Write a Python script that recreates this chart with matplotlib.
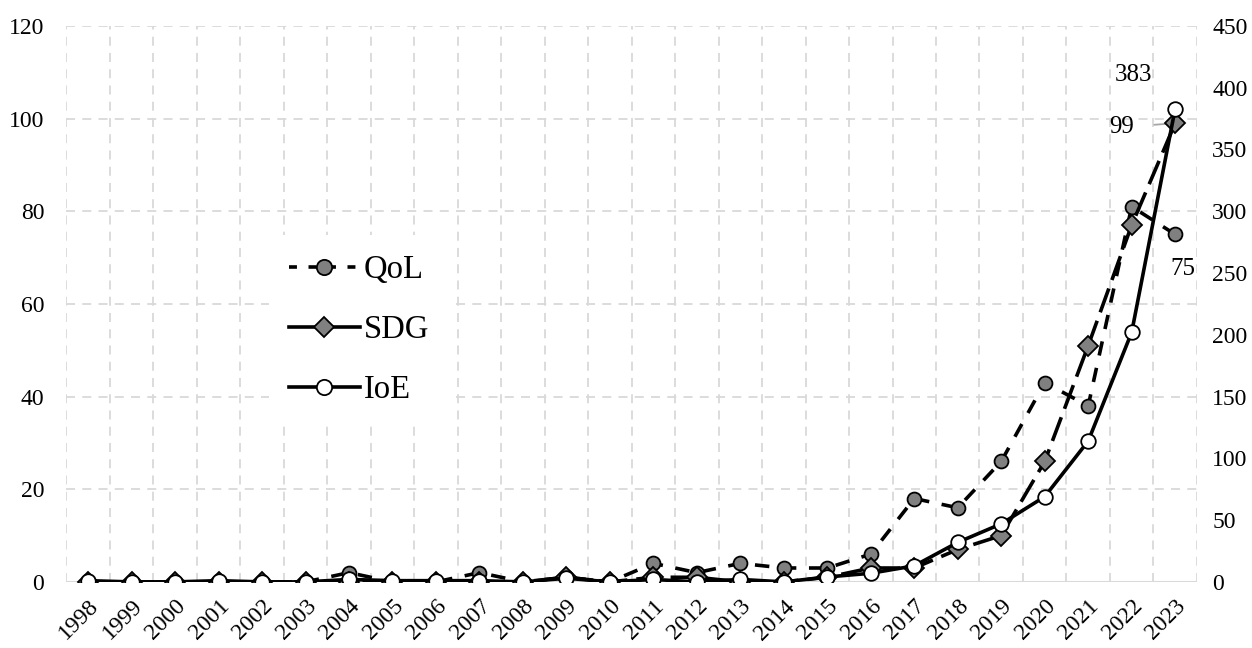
import matplotlib.pyplot as plt
from matplotlib.lines import Line2D
import numpy as np

plt.rcParams['font.family'] = ['Liberation Serif', 'DejaVu Serif']

years = [str(y) for y in range(1998, 2024)]
# left axis
qol = [0, 0, 0, 0, 0, 0, 2, 0, 0, 2, 0, 1, 0, 4, 2, 4, 3, 3, 6, 18, 16, 26, 43, 38, 81, 75]
sdg = [0, 0, 0, 0, 0, 0, 0, 0, 0, 0, 0, 1, 0, 1, 1, 0, 0, 1, 3, 3, 7, 10, 26, 51, 77, 99]
# right axis
ioe = [1, 0, 0, 1, 0, 0, 2, 1, 1, 1, 0, 3, 0, 2, 0, 2, 0, 4, 7, 13, 32, 47, 69, 114, 202, 383]

grid_col = '#d9d9d9'
grey = '#808080'

fig = plt.figure(figsize=(12.52, 6.48), dpi=100)
ax = fig.add_axes([0.053, 0.102, 0.903, 0.858])
ax2 = ax.twinx()

x = np.arange(len(years))

ax.plot(x, qol, color='black', lw=2.6, dashes=(4, 3.5), marker='o', ms=10,
        mfc=grey, mec='black', mew=1.3, zorder=3)
ax.plot(x, sdg, color='black', lw=2.6, dashes=(7, 2.5), marker='D', ms=10,
        mfc=grey, mec='black', mew=1.3, zorder=4)
ax2.plot(x, ioe, color='black', lw=2.6, marker='o', ms=10.5,
         mfc='white', mec='black', mew=1.3, zorder=5)

ax.set_xlim(-0.5, len(years) - 0.5)
ax.set_ylim(0, 120)
ax2.set_ylim(0, 450)
ax.set_yticks(np.arange(0, 121, 20))
ax2.set_yticks(np.arange(0, 451, 50))

ax.set_xticks(x)
ax.set_xticklabels(years, rotation=45, ha='right', rotation_mode='anchor')
ax.set_xticks(np.arange(-0.5, len(years)), minor=True)
ax.tick_params(axis='x', which='both', length=0, labelsize=17, pad=10)
ax.tick_params(axis='y', length=0, labelsize=17, pad=16)
ax2.tick_params(axis='y', length=0, labelsize=17, pad=11)

ax.grid(False)
ax.grid(True, axis='y', which='major', color=grid_col, ls=(0, (5, 4)), lw=1.3)
ax.grid(True, axis='x', which='minor', color=grid_col, ls=(0, (5, 4)), lw=1.3)
ax.set_axisbelow(True)
for a in (ax, ax2):
    for s in a.spines.values():
        s.set_visible(False)
ax.axhline(0, color=grid_col, lw=1.5, zorder=1)

# labels on the last points
ax2.annotate('383', xy=(x[-1], ioe[-1]), xytext=(-42, 34), textcoords='offset pixels',
             ha='center', va='center', fontsize=18)
ax.annotate('99', xy=(x[-1], sdg[-1]), xytext=(-54, -4), textcoords='offset pixels',
            ha='center', va='center', fontsize=18,
            arrowprops=dict(arrowstyle='-', color='#a6a6a6', lw=1.3,
                            shrinkA=13, shrinkB=3))
ax.annotate('75', xy=(x[-1], qol[-1]), xytext=(8, -35), textcoords='offset pixels',
            ha='center', va='center', fontsize=18)

handles = [
    Line2D([], [], color='black', lw=2.6, dashes=(2.2, 3.2), marker='o', ms=11,
           mfc=grey, mec='black', mew=1.3),
    Line2D([], [], color='black', lw=2.6, marker='D', ms=10.5,
           mfc=grey, mec='black', mew=1.3),
    Line2D([], [], color='black', lw=2.6, marker='o', ms=11,
           mfc='white', mec='black', mew=1.3),
]
leg = ax2.legend(handles, ['QoL', 'SDG', 'IoE'], loc='center left',
                 bbox_to_anchor=(269 / 1252, 1 - 330 / 648), bbox_transform=fig.transFigure,
                 fontsize=23.5, frameon=True, handlelength=2.2, handletextpad=0.1,
                 labelspacing=0.9, borderpad=0.6, borderaxespad=0, fancybox=False)
leg.get_frame().set_facecolor('white')
leg.get_frame().set_edgecolor('none')
leg.get_frame().set_alpha(1)

fig.savefig('out.png', dpi=100)
